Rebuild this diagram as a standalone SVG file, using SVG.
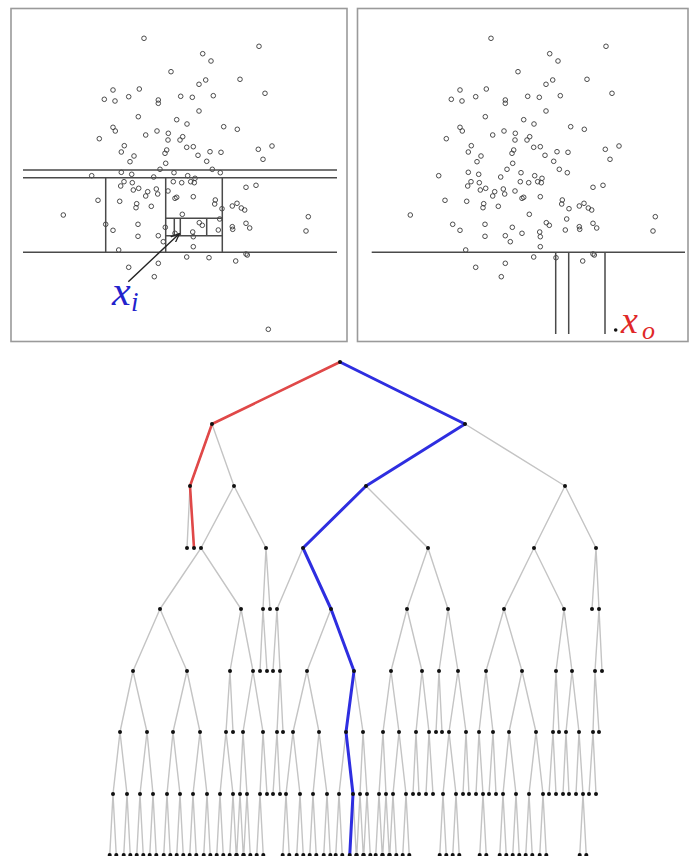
<svg xmlns="http://www.w3.org/2000/svg" xmlns:xlink="http://www.w3.org/1999/xlink" width="689" height="856" viewBox="0 0 689 856">
<style>
.frame{fill:none;stroke:#9a9a9a;stroke-width:1.6}
.cut{fill:none;stroke:#4a4a4a;stroke-width:1.5}
.pts circle{fill:none;stroke:#3a3a3a;stroke-width:0.9}
.edge{fill:none;stroke:#c4c4c4;stroke-width:1.4}
.red{fill:none;stroke:#e04848;stroke-width:2.6;stroke-linejoin:round}
.blue{fill:none;stroke:#2e2ee0;stroke-width:3;stroke-linejoin:round}
.lab{font-family:"Liberation Serif","Times New Roman",serif;font-style:italic}
</style>
<defs>
<circle id="d" r="2" fill="#111"/>
<marker id="ah" viewBox="0 0 10 10" refX="9" refY="5" markerWidth="9" markerHeight="9" orient="auto" markerUnits="userSpaceOnUse">
<path d="M0,1 L10,5 L0,9" fill="none" stroke="#222" stroke-width="1.4"/>
</marker>
<g id="cloud" class="pts">
<circle cx="144" cy="38.3" r="2.3"/><circle cx="259" cy="46.3" r="2.3"/><circle cx="202.7" cy="53.7" r="2.3"/><circle cx="211" cy="61" r="2.3"/>
<circle cx="171" cy="71.7" r="2.3"/><circle cx="240" cy="79.3" r="2.3"/><circle cx="205.7" cy="80" r="2.3"/><circle cx="199" cy="84.3" r="2.3"/>
<circle cx="113" cy="90" r="2.3"/><circle cx="139.3" cy="89" r="2.3"/><circle cx="265" cy="93.3" r="2.3"/><circle cx="104.3" cy="99.3" r="2.3"/>
<circle cx="115" cy="101" r="2.3"/><circle cx="128.7" cy="96.7" r="2.3"/><circle cx="158.3" cy="100" r="2.3"/><circle cx="158.3" cy="103.3" r="2.3"/>
<circle cx="180.7" cy="96.3" r="2.3"/><circle cx="192.3" cy="97.3" r="2.3"/><circle cx="213.3" cy="95.7" r="2.3"/><circle cx="199" cy="111" r="2.3"/>
<circle cx="138.3" cy="116.7" r="2.3"/><circle cx="176.7" cy="119.7" r="2.3"/><circle cx="187" cy="124" r="2.3"/><circle cx="113" cy="127.3" r="2.3"/>
<circle cx="115.3" cy="131" r="2.3"/><circle cx="223.7" cy="126.7" r="2.3"/><circle cx="237.3" cy="129.3" r="2.3"/><circle cx="99.3" cy="138.7" r="2.3"/>
<circle cx="145.7" cy="135" r="2.3"/><circle cx="157" cy="131" r="2.3"/><circle cx="168.3" cy="133.3" r="2.3"/><circle cx="168" cy="140" r="2.3"/>
<circle cx="180" cy="140" r="2.3"/><circle cx="182.7" cy="136.7" r="2.3"/><circle cx="258.3" cy="149.3" r="2.3"/><circle cx="272" cy="146" r="2.3"/>
<circle cx="124.3" cy="145.7" r="2.3"/><circle cx="121.3" cy="152" r="2.3"/><circle cx="134" cy="156" r="2.3"/><circle cx="130" cy="161.7" r="2.3"/>
<circle cx="165" cy="153.3" r="2.3"/><circle cx="166.7" cy="150" r="2.3"/><circle cx="186.7" cy="147.3" r="2.3"/><circle cx="193.3" cy="146.7" r="2.3"/>
<circle cx="198" cy="155.3" r="2.3"/><circle cx="210" cy="151.7" r="2.3"/><circle cx="221" cy="152.3" r="2.3"/><circle cx="206.7" cy="161.3" r="2.3"/>
<circle cx="263" cy="159.3" r="2.3"/><circle cx="165.7" cy="163.3" r="2.3"/><circle cx="160" cy="169.3" r="2.3"/><circle cx="212.3" cy="169.3" r="2.3"/>
<circle cx="91.7" cy="175.7" r="2.3"/><circle cx="121.3" cy="172.3" r="2.3"/><circle cx="131.7" cy="174.3" r="2.3"/><circle cx="153.7" cy="177" r="2.3"/>
<circle cx="174" cy="172.7" r="2.3"/><circle cx="187.7" cy="175.7" r="2.3"/><circle cx="195" cy="178.3" r="2.3"/><circle cx="220.3" cy="172.7" r="2.3"/>
<circle cx="124" cy="181.7" r="2.3"/><circle cx="120.7" cy="186" r="2.3"/><circle cx="132.3" cy="182.7" r="2.3"/><circle cx="133.3" cy="190" r="2.3"/>
<circle cx="138.7" cy="188.3" r="2.3"/><circle cx="147.7" cy="191.7" r="2.3"/><circle cx="145.7" cy="196" r="2.3"/><circle cx="156.3" cy="189" r="2.3"/>
<circle cx="157.7" cy="194" r="2.3"/><circle cx="168" cy="191" r="2.3"/><circle cx="173.3" cy="181.7" r="2.3"/><circle cx="181.7" cy="182.7" r="2.3"/>
<circle cx="190.7" cy="181.7" r="2.3"/><circle cx="194.3" cy="182.7" r="2.3"/><circle cx="193.3" cy="196.7" r="2.3"/><circle cx="175" cy="198.3" r="2.3"/>
<circle cx="176.7" cy="197.3" r="2.3"/><circle cx="246" cy="187.3" r="2.3"/><circle cx="256" cy="185.3" r="2.3"/><circle cx="98" cy="200.3" r="2.3"/>
<circle cx="119.7" cy="201.3" r="2.3"/><circle cx="136.7" cy="203.7" r="2.3"/><circle cx="136" cy="207.7" r="2.3"/><circle cx="151.3" cy="206.3" r="2.3"/>
<circle cx="215.3" cy="200" r="2.3"/><circle cx="214.7" cy="204" r="2.3"/><circle cx="222" cy="208.7" r="2.3"/><circle cx="232.3" cy="206" r="2.3"/>
<circle cx="237" cy="203.3" r="2.3"/><circle cx="241.3" cy="208" r="2.3"/><circle cx="244.7" cy="210" r="2.3"/><circle cx="63.3" cy="215" r="2.3"/>
<circle cx="182.3" cy="214.3" r="2.3"/><circle cx="219.7" cy="219" r="2.3"/><circle cx="308.3" cy="216.7" r="2.3"/><circle cx="105.7" cy="224.3" r="2.3"/>
<circle cx="138" cy="224.3" r="2.3"/><circle cx="199.3" cy="222.7" r="2.3"/><circle cx="202.3" cy="225.3" r="2.3"/><circle cx="246" cy="223.3" r="2.3"/>
<circle cx="249.7" cy="228" r="2.3"/><circle cx="232.3" cy="226.7" r="2.3"/><circle cx="232.7" cy="229.3" r="2.3"/><circle cx="306" cy="231" r="2.3"/>
<circle cx="113" cy="230.3" r="2.3"/><circle cx="138" cy="236.3" r="2.3"/><circle cx="158.3" cy="235.7" r="2.3"/><circle cx="165.3" cy="227.3" r="2.3"/>
<circle cx="175" cy="233.3" r="2.3"/><circle cx="192.7" cy="232" r="2.3"/><circle cx="193.3" cy="236.7" r="2.3"/><circle cx="218.3" cy="230" r="2.3"/>
<circle cx="163.3" cy="241.7" r="2.3"/><circle cx="193.3" cy="246.7" r="2.3"/><circle cx="118.7" cy="250" r="2.3"/><circle cx="186.7" cy="257" r="2.3"/>
<circle cx="209" cy="257.7" r="2.3"/><circle cx="246" cy="254" r="2.3"/><circle cx="247.3" cy="255" r="2.3"/><circle cx="235.7" cy="261" r="2.3"/>
<circle cx="128.7" cy="267.3" r="2.3"/><circle cx="158.3" cy="263.3" r="2.3"/><circle cx="154.3" cy="276.7" r="2.3"/>
</g>
</defs>
<rect width="689" height="856" fill="#fff"/>

<g id="panel-left">
<rect class="frame" x="11" y="8.5" width="336" height="333"/>
<use href="#cloud"/>
<circle cx="268.3" cy="329.3" r="2.3" fill="none" stroke="#3a3a3a" stroke-width="0.9"/>
<path class="cut" d="M23 170H337M23 177.7H337M23 252.3H337M105.7 177.7V252.3M165.7 177.7V252.3M222.3 177.7V252.3M165.7 218.3H222.3M165.7 235.7H222.3M174.3 218.3V235.7M180.3 218.3V235.7M206.7 218.3V235.7"/>
<line x1="128.3" y1="281.7" x2="179" y2="234" stroke="#222" stroke-width="1.4" marker-end="url(#ah)"/>
<text class="lab" x="112" y="305" font-size="42" fill="#2222cc">x</text>
<text class="lab" x="131" y="311" font-size="27" fill="#2222cc">i</text>
</g>

<g id="panel-right">
<rect class="frame" x="357.5" y="8.5" width="330.5" height="333"/>
<use href="#cloud" x="347"/>
<path class="cut" d="M371.7 252.3H685M555.7 252.3V334M568.7 252.3V334M605 252.3V334"/>
<circle cx="615.7" cy="330" r="1.8" fill="#111"/>
<text class="lab" x="621" y="333" font-size="38" fill="#e02828">x</text>
<text class="lab" x="642" y="339" font-size="26" fill="#e02828">o</text>
</g>

<g id="connectors">
<path class="edge" d="M212 424L340 362L465 424
M190 486L212 424L234 486M366 486L465 424L565 486
M187 548L190 486L194 548M201 548L234 486L266 548M303 548L366 486L428 548M534 548L565 486L596 548
M160 609L201 548L241 609M263 609L266 548L270 609M277 609L303 548L331 609M407 609L428 548L448 609M504 609L534 548L564 609M592 609L596 548L599 609
M133 671L160 609L187 671M230 671L241 609L253 671M260 671L263 609L267 671M273 671L277 609L280 671M307 671L331 609L354 671M391 671L407 609L422 671M439 671L448 609L458 671M486 671L504 609L522 671M556 671L564 609L572 671M595 671L599 609L602 671
M120 732L133 671L147 732M173 732L187 671L200 732M226 732L230 671L233 732M243 732L253 671L263 732M277 732L280 671L283 732M293 732L307 671L319 732M346 732L354 671L363 732M383 732L391 671L399 732M416 732L422 671L429 732M436 732L439 671L442 732M449 732L458 671L466 732M479 732L486 671L493 732M509 732L522 671L536 732M553 732L556 671L559 732M566 732L572 671L579 732M593 732L595 671L599 732
M113 794L120 732L127 794M140 794L147 732L153 794M167 794L173 732L180 794M193 794L200 732L207 794M220 794L226 732L233 794M240 794L243 732L247 794M260 794L263 732L267 794M273 794L277 732L280 794M286 794L293 732L300 794M313 794L319 732L327 794M339 794L346 732L353 794M360 794L363 732L367 794M379 794L383 732L386 794M393 794L399 732L406 794M413 794L416 732L419 794M426 794L429 732L433 794M443 794L449 732L456 794M463 794L466 732L469 794M476 794L479 732L483 794M489 794L493 732L496 794M503 794L509 732L516 794M529 794L536 732L543 794M549 794L553 732L556 794M563 794L566 732L569 794M576 794L579 732L583 794M589 794L593 732L596 794
M109.7 856L113 794L116.3 856M123.7 856L127 794L130.3 856M136.7 856L140 794L143.3 856M149.7 856L153 794L156.3 856M163.7 856L167 794L170.3 856M176.7 856L180 794L183.3 856M189.7 856L193 794L196.3 856M203.7 856L207 794L210.3 856M216.7 856L220 794L223.3 856M229.7 856L233 794L236.3 856M236.7 856L240 794L243.3 856M243.7 856L247 794L250.3 856M256.7 856L260 794L263.3 856
M282.7 856L286 794L289.3 856M296.7 856L300 794L303.3 856M309.7 856L313 794L316.3 856M323.7 856L327 794L330.3 856M335.7 856L339 794L342.3 856M349.7 856L353 794L356.3 856M356.7 856L360 794L363.3 856M363.7 856L367 794L370.3 856M375.7 856L379 794L382.3 856M382.7 856L386 794L389.3 856M389.7 856L393 794L396.3 856M402.7 856L406 794L409.3 856
M439.7 856L443 794L446.3 856M452.7 856L456 794L459.3 856M479.7 856L483 794L486.3 856M499.7 856L503 794L506.3 856M512.7 856L516 794L519.3 856M525.7 856L529 794L532.3 856M539.7 856L543 794L546.3 856M579.7 856L583 794L586.3 856"/>
<polyline class="red" points="340,362 212,424 190,486 194,548"/>
<polyline class="blue" points="340,362 465,424 366,486 303,548 331,609 354,671 346,732 353,794 349.7,856"/>
</g>

<g id="tree-nodes">
<g id="n0"><use href="#d" x="340" y="362"/></g>
<g id="n1-1"><use href="#d" x="212" y="424"/></g><g id="n1-2"><use href="#d" x="465" y="424"/></g>
<g id="n2-1"><use href="#d" x="190" y="486"/></g><g id="n2-2"><use href="#d" x="234" y="486"/></g><g id="n2-3"><use href="#d" x="366" y="486"/></g><g id="n2-4"><use href="#d" x="565" y="486"/></g>
<g id="n3-1"><use href="#d" x="187" y="548"/></g><g id="n3-2"><use href="#d" x="194" y="548"/></g><g id="n3-3"><use href="#d" x="201" y="548"/></g><g id="n3-4"><use href="#d" x="266" y="548"/></g><g id="n3-5"><use href="#d" x="303" y="548"/></g><g id="n3-6"><use href="#d" x="428" y="548"/></g><g id="n3-7"><use href="#d" x="534" y="548"/></g><g id="n3-8"><use href="#d" x="596" y="548"/></g>
<g id="n4-1"><use href="#d" x="160" y="609"/></g><g id="n4-2"><use href="#d" x="241" y="609"/></g><g id="n4-3"><use href="#d" x="263" y="609"/></g><g id="n4-4"><use href="#d" x="270" y="609"/></g><g id="n4-5"><use href="#d" x="277" y="609"/></g><g id="n4-6"><use href="#d" x="331" y="609"/></g><g id="n4-7"><use href="#d" x="407" y="609"/></g><g id="n4-8"><use href="#d" x="448" y="609"/></g><g id="n4-9"><use href="#d" x="504" y="609"/></g><g id="n4-10"><use href="#d" x="564" y="609"/></g><g id="n4-11"><use href="#d" x="592" y="609"/></g><g id="n4-12"><use href="#d" x="599" y="609"/></g>
<g id="n5-1"><use href="#d" x="133" y="671"/></g><g id="n5-2"><use href="#d" x="187" y="671"/></g><g id="n5-3"><use href="#d" x="230" y="671"/></g><g id="n5-4"><use href="#d" x="253" y="671"/></g><g id="n5-5"><use href="#d" x="260" y="671"/></g><g id="n5-6"><use href="#d" x="267" y="671"/></g><g id="n5-7"><use href="#d" x="273" y="671"/></g><g id="n5-8"><use href="#d" x="280" y="671"/></g><g id="n5-9"><use href="#d" x="307" y="671"/></g><g id="n5-10"><use href="#d" x="354" y="671"/></g><g id="n5-11"><use href="#d" x="391" y="671"/></g><g id="n5-12"><use href="#d" x="422" y="671"/></g><g id="n5-13"><use href="#d" x="439" y="671"/></g><g id="n5-14"><use href="#d" x="458" y="671"/></g><g id="n5-15"><use href="#d" x="486" y="671"/></g><g id="n5-16"><use href="#d" x="522" y="671"/></g><g id="n5-17"><use href="#d" x="556" y="671"/></g><g id="n5-18"><use href="#d" x="572" y="671"/></g><g id="n5-19"><use href="#d" x="595" y="671"/></g><g id="n5-20"><use href="#d" x="602" y="671"/></g>
<g id="n6-1"><use href="#d" x="120" y="732"/></g><g id="n6-2"><use href="#d" x="147" y="732"/></g><g id="n6-3"><use href="#d" x="173" y="732"/></g><g id="n6-4"><use href="#d" x="200" y="732"/></g><g id="n6-5"><use href="#d" x="226" y="732"/></g><g id="n6-6"><use href="#d" x="233" y="732"/></g><g id="n6-7"><use href="#d" x="243" y="732"/></g><g id="n6-8"><use href="#d" x="263" y="732"/></g><g id="n6-9"><use href="#d" x="277" y="732"/></g><g id="n6-10"><use href="#d" x="283" y="732"/></g><g id="n6-11"><use href="#d" x="293" y="732"/></g><g id="n6-12"><use href="#d" x="319" y="732"/></g><g id="n6-13"><use href="#d" x="346" y="732"/></g><g id="n6-14"><use href="#d" x="363" y="732"/></g><g id="n6-15"><use href="#d" x="383" y="732"/></g><g id="n6-16"><use href="#d" x="399" y="732"/></g><g id="n6-17"><use href="#d" x="416" y="732"/></g><g id="n6-18"><use href="#d" x="429" y="732"/></g><g id="n6-19"><use href="#d" x="436" y="732"/></g><g id="n6-20"><use href="#d" x="442" y="732"/></g><g id="n6-21"><use href="#d" x="449" y="732"/></g><g id="n6-22"><use href="#d" x="466" y="732"/></g><g id="n6-23"><use href="#d" x="479" y="732"/></g><g id="n6-24"><use href="#d" x="493" y="732"/></g><g id="n6-25"><use href="#d" x="509" y="732"/></g><g id="n6-26"><use href="#d" x="536" y="732"/></g><g id="n6-27"><use href="#d" x="553" y="732"/></g><g id="n6-28"><use href="#d" x="559" y="732"/></g><g id="n6-29"><use href="#d" x="566" y="732"/></g><g id="n6-30"><use href="#d" x="579" y="732"/></g><g id="n6-31"><use href="#d" x="593" y="732"/></g><g id="n6-32"><use href="#d" x="599" y="732"/></g>
<g id="n7-1"><use href="#d" x="113" y="794"/></g><g id="n7-2"><use href="#d" x="127" y="794"/></g><g id="n7-3"><use href="#d" x="140" y="794"/></g><g id="n7-4"><use href="#d" x="153" y="794"/></g><g id="n7-5"><use href="#d" x="167" y="794"/></g><g id="n7-6"><use href="#d" x="180" y="794"/></g><g id="n7-7"><use href="#d" x="193" y="794"/></g><g id="n7-8"><use href="#d" x="207" y="794"/></g><g id="n7-9"><use href="#d" x="220" y="794"/></g><g id="n7-10"><use href="#d" x="233" y="794"/></g><g id="n7-11"><use href="#d" x="240" y="794"/></g><g id="n7-12"><use href="#d" x="247" y="794"/></g><g id="n7-13"><use href="#d" x="260" y="794"/></g><g id="n7-14"><use href="#d" x="267" y="794"/></g><g id="n7-15"><use href="#d" x="273" y="794"/></g><g id="n7-16"><use href="#d" x="280" y="794"/></g><g id="n7-17"><use href="#d" x="286" y="794"/></g><g id="n7-18"><use href="#d" x="300" y="794"/></g><g id="n7-19"><use href="#d" x="313" y="794"/></g><g id="n7-20"><use href="#d" x="327" y="794"/></g><g id="n7-21"><use href="#d" x="339" y="794"/></g><g id="n7-22"><use href="#d" x="353" y="794"/></g><g id="n7-23"><use href="#d" x="360" y="794"/></g><g id="n7-24"><use href="#d" x="367" y="794"/></g><g id="n7-25"><use href="#d" x="379" y="794"/></g><g id="n7-26"><use href="#d" x="386" y="794"/></g><g id="n7-27"><use href="#d" x="393" y="794"/></g><g id="n7-28"><use href="#d" x="406" y="794"/></g><g id="n7-29"><use href="#d" x="413" y="794"/></g><g id="n7-30"><use href="#d" x="419" y="794"/></g><g id="n7-31"><use href="#d" x="426" y="794"/></g><g id="n7-32"><use href="#d" x="433" y="794"/></g><g id="n7-33"><use href="#d" x="443" y="794"/></g><g id="n7-34"><use href="#d" x="456" y="794"/></g><g id="n7-35"><use href="#d" x="463" y="794"/></g><g id="n7-36"><use href="#d" x="469" y="794"/></g><g id="n7-37"><use href="#d" x="476" y="794"/></g><g id="n7-38"><use href="#d" x="483" y="794"/></g><g id="n7-39"><use href="#d" x="489" y="794"/></g><g id="n7-40"><use href="#d" x="496" y="794"/></g><g id="n7-41"><use href="#d" x="503" y="794"/></g><g id="n7-42"><use href="#d" x="516" y="794"/></g><g id="n7-43"><use href="#d" x="529" y="794"/></g><g id="n7-44"><use href="#d" x="543" y="794"/></g><g id="n7-45"><use href="#d" x="549" y="794"/></g><g id="n7-46"><use href="#d" x="556" y="794"/></g><g id="n7-47"><use href="#d" x="563" y="794"/></g><g id="n7-48"><use href="#d" x="569" y="794"/></g><g id="n7-49"><use href="#d" x="576" y="794"/></g><g id="n7-50"><use href="#d" x="583" y="794"/></g><g id="n7-51"><use href="#d" x="589" y="794"/></g><g id="n7-52"><use href="#d" x="596" y="794"/></g>
<g id="n8-1"><use href="#d" x="109.7" y="855"/></g><g id="n8-2"><use href="#d" x="116.3" y="855"/></g><g id="n8-3"><use href="#d" x="123.7" y="855"/></g><g id="n8-4"><use href="#d" x="130.3" y="855"/></g><g id="n8-5"><use href="#d" x="136.7" y="855"/></g><g id="n8-6"><use href="#d" x="143.3" y="855"/></g><g id="n8-7"><use href="#d" x="149.7" y="855"/></g><g id="n8-8"><use href="#d" x="156.3" y="855"/></g><g id="n8-9"><use href="#d" x="163.7" y="855"/></g><g id="n8-10"><use href="#d" x="170.3" y="855"/></g><g id="n8-11"><use href="#d" x="176.7" y="855"/></g><g id="n8-12"><use href="#d" x="183.3" y="855"/></g><g id="n8-13"><use href="#d" x="189.7" y="855"/></g><g id="n8-14"><use href="#d" x="196.3" y="855"/></g><g id="n8-15"><use href="#d" x="203.7" y="855"/></g><g id="n8-16"><use href="#d" x="210.3" y="855"/></g><g id="n8-17"><use href="#d" x="216.7" y="855"/></g><g id="n8-18"><use href="#d" x="223.3" y="855"/></g><g id="n8-19"><use href="#d" x="229.7" y="855"/></g><g id="n8-20"><use href="#d" x="236.3" y="855"/></g><g id="n8-21"><use href="#d" x="236.7" y="855"/></g><g id="n8-22"><use href="#d" x="243.3" y="855"/></g><g id="n8-23"><use href="#d" x="243.7" y="855"/></g><g id="n8-24"><use href="#d" x="250.3" y="855"/></g><g id="n8-25"><use href="#d" x="256.7" y="855"/></g><g id="n8-26"><use href="#d" x="263.3" y="855"/></g>
<g id="n8-27"><use href="#d" x="282.7" y="855"/></g><g id="n8-28"><use href="#d" x="289.3" y="855"/></g><g id="n8-29"><use href="#d" x="296.7" y="855"/></g><g id="n8-30"><use href="#d" x="303.3" y="855"/></g><g id="n8-31"><use href="#d" x="309.7" y="855"/></g><g id="n8-32"><use href="#d" x="316.3" y="855"/></g><g id="n8-33"><use href="#d" x="323.7" y="855"/></g><g id="n8-34"><use href="#d" x="330.3" y="855"/></g><g id="n8-35"><use href="#d" x="335.7" y="855"/></g><g id="n8-36"><use href="#d" x="342.3" y="855"/></g><g id="n8-37"><use href="#d" x="349.7" y="855"/></g><g id="n8-38"><use href="#d" x="356.3" y="855"/></g><g id="n8-39"><use href="#d" x="356.7" y="855"/></g><g id="n8-40"><use href="#d" x="363.3" y="855"/></g><g id="n8-41"><use href="#d" x="363.7" y="855"/></g><g id="n8-42"><use href="#d" x="370.3" y="855"/></g><g id="n8-43"><use href="#d" x="375.7" y="855"/></g><g id="n8-44"><use href="#d" x="382.3" y="855"/></g><g id="n8-45"><use href="#d" x="382.7" y="855"/></g><g id="n8-46"><use href="#d" x="389.3" y="855"/></g><g id="n8-47"><use href="#d" x="389.7" y="855"/></g><g id="n8-48"><use href="#d" x="396.3" y="855"/></g><g id="n8-49"><use href="#d" x="402.7" y="855"/></g><g id="n8-50"><use href="#d" x="409.3" y="855"/></g>
<g id="n8-51"><use href="#d" x="439.7" y="855"/></g><g id="n8-52"><use href="#d" x="446.3" y="855"/></g><g id="n8-53"><use href="#d" x="452.7" y="855"/></g><g id="n8-54"><use href="#d" x="459.3" y="855"/></g><g id="n8-55"><use href="#d" x="479.7" y="855"/></g><g id="n8-56"><use href="#d" x="486.3" y="855"/></g><g id="n8-57"><use href="#d" x="499.7" y="855"/></g><g id="n8-58"><use href="#d" x="506.3" y="855"/></g><g id="n8-59"><use href="#d" x="512.7" y="855"/></g><g id="n8-60"><use href="#d" x="519.3" y="855"/></g><g id="n8-61"><use href="#d" x="525.7" y="855"/></g><g id="n8-62"><use href="#d" x="532.3" y="855"/></g><g id="n8-63"><use href="#d" x="539.7" y="855"/></g><g id="n8-64"><use href="#d" x="546.3" y="855"/></g><g id="n8-65"><use href="#d" x="579.7" y="855"/></g><g id="n8-66"><use href="#d" x="586.3" y="855"/></g>
</g>
</svg>
